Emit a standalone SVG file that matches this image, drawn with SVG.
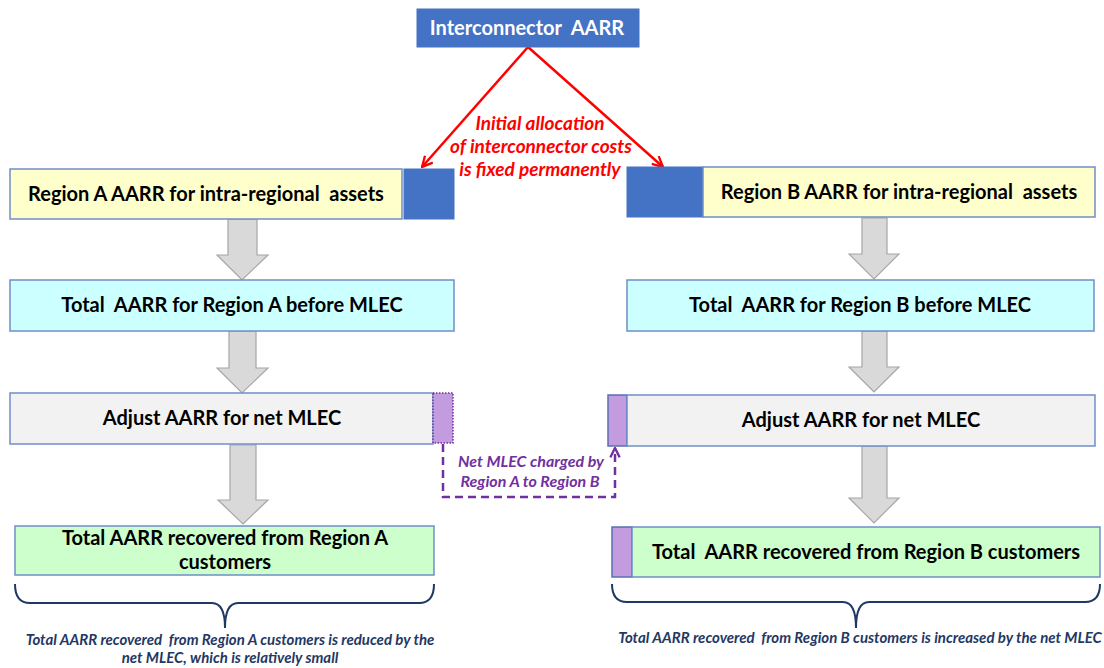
<svg xmlns="http://www.w3.org/2000/svg" width="1104" height="668" viewBox="0 0 1104 668">
<style>
.box{stroke:#6F8FC7;stroke-width:1.5}
.yellow{fill:#FFFFCC}
.cyan{fill:#CCFFFF}
.grey{fill:#F2F2F2}
.green{fill:#CCFFCC}
.blue{fill:#4472C4;stroke:#4472C4;stroke-width:1}
.purple{fill:#C39BDF;stroke:#5A6FB0;stroke-width:1.5}
.lbl{font-family:Lato,"Liberation Sans",sans-serif;font-weight:bold;font-size:20px;fill:#000;text-anchor:middle;white-space:pre}
.garrow{fill:#D9D9D9;stroke:#A6A6A6;stroke-width:1.2}
.red{font-family:Lato,"Liberation Sans",sans-serif;font-weight:bold;font-style:italic;font-size:19px;fill:#FF0000;text-anchor:middle}
.pur{font-family:Lato,"Liberation Sans",sans-serif;font-weight:bold;font-style:italic;font-size:16px;fill:#7030A0;text-anchor:middle}
.note{font-family:Lato,"Liberation Sans",sans-serif;font-weight:bold;font-style:italic;font-size:15px;fill:#1F3864;text-anchor:middle;white-space:pre}
.brace{fill:none;stroke:#1F3864;stroke-width:2}
</style>
<defs>
<marker id="redhead" viewBox="0 0 12 12" refX="11" refY="6" markerWidth="5" markerHeight="5" markerUnits="strokeWidth" orient="auto">
<path d="M1,1 L11,6 L1,11" fill="none" stroke="#FF0000" stroke-width="2.2"/>
</marker>
<marker id="purhead" viewBox="0 0 12 12" refX="11" refY="6" markerWidth="4.5" markerHeight="4.5" markerUnits="strokeWidth" orient="auto">
<path d="M1,1 L11,6 L1,11" fill="none" stroke="#7030A0" stroke-width="2.4"/>
</marker>
</defs>
<rect width="1104" height="668" fill="#FFFFFF"/>

<g id="connectors">
<line x1="528" y1="47" x2="422" y2="167" stroke="#FF0000" stroke-width="2.5" marker-end="url(#redhead)"/>
<line x1="528" y1="47" x2="663" y2="167" stroke="#FF0000" stroke-width="2.5" marker-end="url(#redhead)"/>
<path d="M443,444 V497 H615 V448" fill="none" stroke="#7030A0" stroke-width="2.5" stroke-dasharray="8,5" marker-end="url(#purhead)"/>
<path class="garrow" d="M228,219 H257 V255 H268 L242,280 L217,255 H228 Z"/>
<path class="garrow" d="M229,331 H256 V368 H268 L242,393 L217,368 H229 Z"/>
<path class="garrow" d="M230,445 H256 V500 H268 L243,524 L218,500 H230 Z"/>
<path class="garrow" d="M862,218 H887 V254 H899 L874,279 L849,254 H862 Z"/>
<path class="garrow" d="M862,331 H887 V367 H899 L874,392 L849,367 H862 Z"/>
<path class="garrow" d="M862,446 H887 V498 H899 L874,523 L849,498 H862 Z"/>
</g>

<g id="interconnector">
<rect class="blue" x="417" y="9" width="222" height="38"/>
<text class="lbl" x="527" y="35" style="fill:#FFFFFF">Interconnector  AARR</text>
</g>

<g id="allocation-label">
<text class="red" x="540" y="130">Initial allocation</text>
<text class="red" x="541" y="153">of interconnector costs</text>
<text class="red" x="540" y="176">is fixed permanently</text>
</g>

<g id="regionA-intra">
<rect class="box yellow" x="10" y="169" width="392" height="50"/>
<rect class="blue" x="404" y="169" width="50" height="50"/>
<text class="lbl" x="206" y="201">Region A AARR for intra-regional  assets</text>
</g>

<g id="regionB-intra">
<rect class="blue" x="627" y="167" width="76" height="50"/>
<rect class="box yellow" x="703" y="167" width="392" height="50"/>
<text class="lbl" x="899" y="199">Region B AARR for intra-regional  assets</text>
</g>

<g id="regionA-total">
<rect class="box cyan" x="10" y="280" width="444" height="51"/>
<text class="lbl" x="232" y="312">Total  AARR for Region A before MLEC</text>
</g>

<g id="regionB-total">
<rect class="box cyan" x="627" y="280" width="467" height="51"/>
<text class="lbl" x="860" y="312">Total  AARR for Region B before MLEC</text>
</g>

<g id="regionA-adjust">
<rect class="box grey" x="10" y="393" width="423" height="51"/>
<rect x="433" y="393" width="20" height="50" fill="#C39BDF" stroke="#7030A0" stroke-width="1.5" stroke-dasharray="1.5,1.5"/>
<text class="lbl" x="222" y="425">Adjust AARR for net MLEC</text>
</g>

<g id="regionB-adjust">
<rect class="purple" x="608" y="395" width="19" height="51"/>
<rect class="box grey" x="627" y="395" width="468" height="51"/>
<text class="lbl" x="861" y="427">Adjust AARR for net MLEC</text>
</g>

<g id="mlec-label">
<text class="pur" x="531" y="467">Net MLEC charged by</text>
<text class="pur" x="530" y="487">Region A to Region B</text>
</g>

<g id="regionA-recovered">
<rect class="box green" x="15" y="526" width="419" height="49"/>
<text class="lbl" x="225" y="545">Total AARR recovered from Region A</text>
<text class="lbl" x="225" y="569">customers</text>
</g>

<g id="regionB-recovered">
<rect class="purple" x="612" y="527" width="20" height="50"/>
<rect class="box green" x="632" y="527" width="468" height="50"/>
<text class="lbl" x="866" y="559">Total  AARR recovered from Region B customers</text>
</g>

<g id="braceA">
<path class="brace" d="M15,584 Q15,603 30,603 L212,603 Q225,603 225,628 Q225,603 238,603 L419,603 Q434,603 434,584"/>
<text class="note" x="230" y="645">Total AARR recovered  from Region A customers is reduced by the</text>
<text class="note" x="230" y="663">net MLEC, which is relatively small</text>
</g>

<g id="braceB">
<path class="brace" d="M612,584 Q612,602 627,602 L843,602 Q856,602 856,628 Q856,602 869,602 L1085,602 Q1100,602 1100,584"/>
<text class="note" x="860" y="643">Total AARR recovered  from Region B customers is increased by the net MLEC</text>
</g>
</svg>
